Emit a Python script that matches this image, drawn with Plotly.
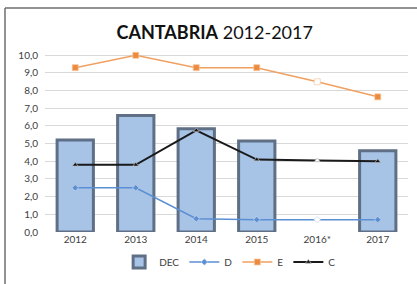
import plotly.graph_objects as go

categories = ["2012", "2013", "2014", "2015", "2016*", "2017"]
dec = [5.2, 6.6, 5.85, 5.15, None, 4.6]
d_vals = [2.5, 2.5, 0.75, 0.7, 0.7, 0.7]
e_vals = [9.3, 10.0, 9.3, 9.3, 8.5, 7.65]
c_vals = [3.8, 3.8, 5.75, 4.1, 4.05, 4.0]
y_ticks = [0, 1, 2, 3, 4, 5, 6, 7, 8, 9, 10]

W, H = 417, 284
L, R, T, B = 45, 9, 50, 52
FONT = "Lato, 'Open Sans', sans-serif"

def marker_colors(col):
    return [("white" if c == "2016*" else col) for c in categories]

fig = go.Figure()
fig.add_trace(go.Bar(
    x=categories, y=dec, name="DEC", width=0.6,
    marker=dict(color="#a7c3e6", line=dict(color="#5f6f85", width=3)),
))
fig.add_trace(go.Scatter(
    x=categories, y=d_vals, name="D", mode="lines+markers",
    line=dict(color="#5b8fd3", width=1.5),
    marker=dict(symbol="diamond", size=5, color=marker_colors("#5b8fd3"),
                line=dict(color="#c9d6ea", width=0.7)),
    cliponaxis=False,
))
fig.add_trace(go.Scatter(
    x=categories, y=e_vals, name="E", mode="lines+markers",
    line=dict(color="#f0a060", width=1.5),
    marker=dict(symbol="square", size=6, color=marker_colors("#ee8a3c"),
                line=dict(color="#f3c9a4", width=0.7)),
    cliponaxis=False,
))
fig.add_trace(go.Scatter(
    x=categories, y=c_vals, name="C", mode="lines+markers",
    line=dict(color="#1a1a1a", width=2),
    marker=dict(symbol="triangle-up", size=5, color=marker_colors("#111111"),
                line=dict(color="#bbbbbb", width=0.7)),
    cliponaxis=False,
))

pw = W - L - R
ph = H - T - B

def px_x(px):
    return (px - L) / pw

def px_y(py):
    return (H - B - py) / ph

fig.update_layout(
    width=W, height=H,
    margin=dict(l=L, r=R, t=T, b=B, autoexpand=False),
    paper_bgcolor="white", plot_bgcolor="white",
    separators=",.",
    font=dict(family=FONT, color="#404040", size=10),
    title=dict(text="<b>CANTABRIA</b> 2012-2017", x=0.515, xanchor="center",
               y=1 - 33 / H, yanchor="middle",
               font=dict(family=FONT, size=18, color="#111111")),
    showlegend=True,
    legend=dict(orientation="h", x=0.51, xanchor="center", y=px_y(262), yanchor="middle",
                font=dict(size=10, color="#404040"), itemwidth=30,
                tracegroupgap=0, bgcolor="rgba(0,0,0,0)"),
    bargap=0.4,
    xaxis=dict(showgrid=False, zeroline=False, showline=False, ticks="",
               automargin=False, tickfont=dict(size=10, color="#404040")),
    yaxis=dict(range=[0, 10.3], tickvals=y_ticks, tickformat=".1f",
               showgrid=True, gridcolor="#d9d9d9", gridwidth=1,
               zeroline=False, showline=False, ticks="", ticklabelstandoff=6,
               automargin=False, tickfont=dict(size=10, color="#404040")),
    shapes=[
        dict(type="line", xref="paper", yref="paper", x0=px_x(5), x1=px_x(5),
             y0=px_y(284), y1=px_y(8), line=dict(color="#6e6e6e", width=1.5)),
        dict(type="line", xref="paper", yref="paper", x0=px_x(5), x1=px_x(417),
             y0=px_y(8), y1=px_y(8), line=dict(color="#6e6e6e", width=1.5)),
    ],
)

fig.write_html("out.html", config={"displayModeBar": False},
               post_script="document.body.style.margin='0px';")
